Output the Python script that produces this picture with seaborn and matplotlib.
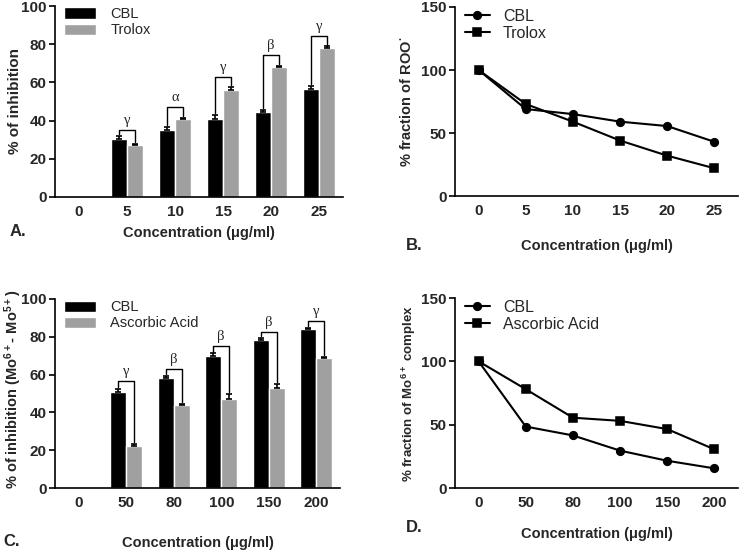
import numpy as np
import pandas as pd
import seaborn as sns
import matplotlib.pyplot as plt

sns.set_style("ticks")
plt.rcParams['font.family'] = ['Liberation Sans', 'DejaVu Sans']
plt.rcParams['mathtext.fontset'] = 'custom'
plt.rcParams['mathtext.rm'] = 'Liberation Sans'
plt.rcParams['mathtext.bf'] = 'Liberation Sans:bold'
plt.rcParams['mathtext.default'] = 'bf'

# panel A / B data
conc_ab = ["0", "5", "10", "15", "20", "25"]
inh_cbl_a = [0, 30.5, 35, 41, 44.5, 56.5]
inh_tro_a = [0, 27, 41, 56, 68, 78]
err_cbl_a = [0, 1.5, 1.5, 2.0, 1.2, 1.8]
err_tro_a = [0, 1.0, 0.3, 1.5, 0.8, 0.8]
brk_a = [None, 35, 47, 63, 74.5, 84.5]
sym_a = [None, "γ", "α", "γ", "β", "γ"]

frac_cbl_b = [100, 69, 65, 59, 55.5, 43]
frac_tro_b = [100, 73, 59, 44, 32, 22]

# panel C / D data
conc_cd = ["0", "50", "80", "100", "150", "200"]
inh_cbl_c = [0, 51, 58, 70, 78.5, 84]
inh_aa_c = [0, 22, 44, 47, 53, 69]
err_cbl_c = [0, 1.5, 1.2, 1.2, 0.8, 0.5]
err_aa_c = [0, 1.5, 0.3, 3.0, 2.0, 0.3]
brk_c = [None, 56.5, 63, 75, 82.5, 88.5]
sym_c = [None, "γ", "β", "β", "β", "γ"]

frac_cbl_d = [100, 48.5, 41.5, 29.5, 21.5, 15.5]
frac_aa_d = [100, 78, 55.5, 53, 46.5, 30.5]

W, H = 740, 550
fig = plt.figure(figsize=(W / 100, H / 100), dpi=100)


def px_axes(left, right, top, bottom):
    return fig.add_axes([left / W, 1 - bottom / H, (right - left) / W, (bottom - top) / H])


def style_axes(ax, ymax, ystep):
    sns.despine(ax=ax)
    for s in ["left", "bottom"]:
        ax.spines[s].set_linewidth(1.2)
        ax.spines[s].set_color("black")
    ax.set_ylim(0, ymax)
    ax.set_yticks(np.arange(0, ymax + 1, ystep))
    ax.set_xlim(-0.5, 5.5)
    ax.tick_params(axis="y", length=4, width=1.2, color="black", labelsize=11, pad=2)
    ax.tick_params(axis="x", length=0, labelsize=11, pad=6)
    for lab in ax.get_xticklabels() + ax.get_yticklabels():
        lab.set_fontweight("bold")


def bar_panel(ax, conc, v1, v2, e1, e2, brk, sym, names):
    df = pd.DataFrame({
        "conc": conc * 2,
        "val": v1 + v2,
        "series": [names[0]] * len(conc) + [names[1]] * len(conc),
    })
    sns.barplot(data=df, x="conc", y="val", hue="series", order=conc,
                palette=["black", "#a0a0a0"], width=0.68, errorbar=None,
                saturation=1, ax=ax)
    c1, c2 = ax.containers[0], ax.containers[1]
    x1 = [b.get_x() + b.get_width() / 2 for b in c1]
    x2 = [b.get_x() + b.get_width() / 2 for b in c2]
    for xs, vs, es in [(x1, v1, e1), (x2, v2, e2)]:
        for x, v, e in zip(xs, vs, es):
            if v == 0:
                continue
            ax.errorbar(x, v, yerr=[[0], [e]], fmt="none", ecolor="black",
                        elinewidth=1.2, capsize=2.5, capthick=1.2)
    for i in range(len(conc)):
        if brk[i] is None:
            continue
        ya = v1[i] + e1[i] + 1
        yb = v2[i] + e2[i] + 1
        ax.plot([x1[i], x1[i], x2[i], x2[i]], [ya, brk[i], brk[i], yb],
                color="black", lw=1)
        ax.text((x1[i] + x2[i]) / 2, brk[i] + 1.5, sym[i], ha="center",
                va="bottom", fontsize=10.5, family=["Liberation Serif", "DejaVu Serif"])
    h, l = ax.get_legend_handles_labels()
    ax.legend(h, l, loc="upper left", bbox_to_anchor=(0.0, 1.04), frameon=False,
              fontsize=10.5, handlelength=2.2, handleheight=0.8, labelspacing=0.15,
              borderaxespad=0.2, handletextpad=1.0)


def line_panel(ax, conc, v1, v2, names):
    df = pd.DataFrame({
        "conc": conc * 2,
        "val": v1 + v2,
        "series": [names[0]] * len(conc) + [names[1]] * len(conc),
    })
    sns.pointplot(data=df, x="conc", y="val", hue="series", order=conc,
                  palette=["black", "black"], markers=["o", "s"],
                  linestyles=["-", "-"], errorbar=None, ax=ax,
                  markersize=5.5, linewidth=1.5)
    h, l = ax.get_legend_handles_labels()
    ax.legend(h, l, loc="upper left", bbox_to_anchor=(0.0, 1.04), frameon=False,
              fontsize=11.5, handlelength=1.6, labelspacing=0.1,
              borderaxespad=0.2, handletextpad=0.8)


# A
axA = px_axes(55, 343, 6, 197)
bar_panel(axA, conc_ab, inh_cbl_a, inh_tro_a, err_cbl_a, err_tro_a, brk_a, sym_a,
          ["CBL", "Trolox"])
style_axes(axA, 100, 20)
axA.set_ylabel("% of inhibition", fontsize=11, fontweight="bold")
axA.set_xlabel("Concentration (μg/ml)", fontsize=10.5, fontweight="bold", va="top")
axA.yaxis.set_label_coords(-0.115, 0.5)
axA.xaxis.set_label_coords(0.5, -0.15)

# B
axB = px_axes(455, 738, 7, 196)
line_panel(axB, conc_ab, frac_cbl_b, frac_tro_b, ["CBL", "Trolox"])
style_axes(axB, 150, 50)
axB.set_ylabel("% fraction of ROO$^{·}$", fontsize=10.5, fontweight="bold")
axB.set_xlabel("Concentration (μg/ml)", fontsize=10.5, fontweight="bold", va="top")
axB.yaxis.set_label_coords(-0.145, 0.5)
axB.xaxis.set_label_coords(0.5, -0.225)

# C
axC = px_axes(55, 340, 299, 488)
bar_panel(axC, conc_cd, inh_cbl_c, inh_aa_c, err_cbl_c, err_aa_c, brk_c, sym_c,
          ["CBL", "Ascorbic Acid"])
style_axes(axC, 100, 20)
axC.set_ylabel("% of inhibition (Mo$^{6+}$- Mo$^{5+}$)", fontsize=10.5, fontweight="bold")
axC.set_xlabel("Concentration (μg/ml)", fontsize=10.5, fontweight="bold", va="top")
axC.yaxis.set_label_coords(-0.11, 0.52)
axC.xaxis.set_label_coords(0.5, -0.255)

# D
axD = px_axes(455, 738, 298, 488)
line_panel(axD, conc_cd, frac_cbl_d, frac_aa_d, ["CBL", "Ascorbic Acid"])
style_axes(axD, 150, 50)
axD.set_ylabel("% fraction of Mo$^{6+}$ complex", fontsize=9.5, fontweight="bold")
axD.set_xlabel("Concentration (μg/ml)", fontsize=10.5, fontweight="bold", va="top")
axD.yaxis.set_label_coords(-0.13, 0.5)
axD.xaxis.set_label_coords(0.5, -0.205)

# panel letters
for txt, x, y in [("A.", 10, 232), ("B.", 406, 245), ("C.", 3, 541), ("D.", 406, 528)]:
    fig.text(x / W, 1 - y / H, txt, fontsize=12, fontweight="bold", va="center", ha="left")

fig.savefig("out.png", dpi=100)
